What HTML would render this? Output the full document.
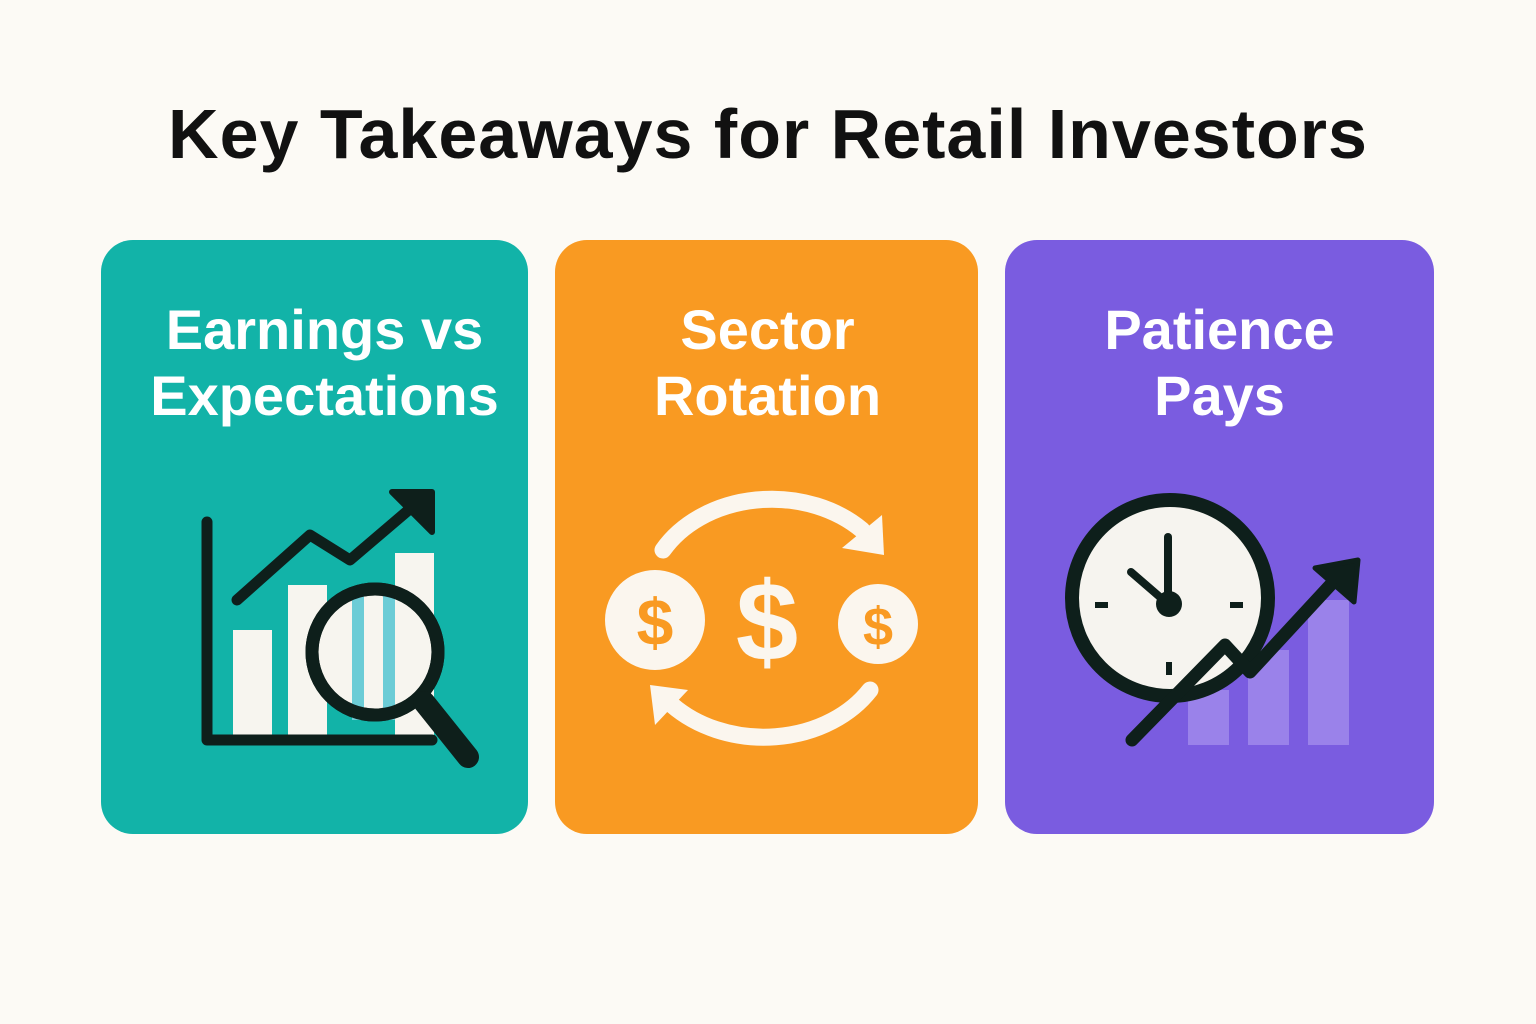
<!DOCTYPE html>
<html><head><meta charset="utf-8">
<style>
html,body{margin:0;padding:0;background:#fcfaf5;}
body{width:1536px;height:1024px;position:relative;overflow:hidden;font-family:"Liberation Sans","DejaVu Sans",sans-serif;}
h1{position:absolute;left:0;width:1536px;top:94px;margin:0;text-align:center;font-size:70px;font-weight:bold;color:#111;letter-spacing:1px;}
.card{position:absolute;top:240px;height:594px;border-radius:32px;}
.ct{position:absolute;top:297px;text-align:center;color:#fff;font-weight:bold;font-size:56px;line-height:66px;}
svg{position:absolute;left:0;top:0;}
</style></head>
<body>
<h1>Key Takeaways for Retail Investors</h1>
<div class="card" style="left:101px;width:427px;background:#12b3a8;"></div>
<div class="card" style="left:555px;width:423px;background:#f99a22;"></div>
<div class="card" style="left:1005px;width:429px;background:#7a5ce0;"></div>
<div class="ct" style="left:111px;width:427px;">Earnings vs<br>Expectations</div>
<div class="ct" style="left:556px;width:423px;">Sector<br>Rotation</div>
<div class="ct" style="left:1005px;width:429px;">Patience<br>Pays</div>
<svg id="s" width="1536" height="1024">
  <g>
    <g id="ebars"></g>
    <polyline points="207,522 207,740 432,740" fill="none" stroke="#0e1f1b" stroke-width="11" stroke-linecap="round" stroke-linejoin="round"/>
    <polyline points="237,600 310,535 350,560 418,502" fill="none" stroke="#0e1f1b" stroke-width="11" stroke-linecap="round" stroke-linejoin="round"/>
    <polygon points="392,492 432,492 432,532" fill="#0e1f1b" stroke="#0e1f1b" stroke-width="6" stroke-linejoin="round"/>
    <circle cx="375" cy="652" r="63" fill="#f7f5ef" stroke="#0e1f1b" stroke-width="13"/>
    <rect x="352" y="595" width="12" height="125" fill="#6cccd6"/>
    <rect x="383" y="595" width="12" height="125" fill="#6cccd6"/>
    <circle cx="375" cy="652" r="63" fill="none" stroke="#0e1f1b" stroke-width="13"/>
    <line x1="424" y1="702" x2="468" y2="757" stroke="#0e1f1b" stroke-width="22" stroke-linecap="round"/>
  </g>
  <g>
    <path d="M663,550 A125,100 0 0 1 862,530" fill="none" stroke="#fbf6ee" stroke-width="17" stroke-linecap="round"/>
    <polygon points="842,548 882,515 884,555" fill="#fbf6ee"/>
    <path d="M870,690 A125,100 0 0 1 672,705" fill="none" stroke="#fbf6ee" stroke-width="17" stroke-linecap="round"/>
    <polygon points="688,690 650,685 655,725" fill="#fbf6ee"/>
    <circle cx="655" cy="620" r="50" fill="#fbf6ee"/>
    <text x="655" y="645" text-anchor="middle" font-size="66" font-weight="bold" fill="#f99a22" font-family="Liberation Sans,sans-serif">$</text>
    <text x="767" y="660" text-anchor="middle" font-size="112" font-weight="bold" fill="#fbf6ee" font-family="Liberation Sans,sans-serif">$</text>
    <circle cx="878" cy="624" r="40" fill="#fbf6ee"/>
    <text x="878" y="645" text-anchor="middle" font-size="54" font-weight="bold" fill="#f99a22" font-family="Liberation Sans,sans-serif">$</text>
  </g>
  <g>
    <g id="pbars"></g>
    <circle cx="1170" cy="598" r="98" fill="#f6f4ef" stroke="#0e1f1b" stroke-width="14"/>
    <line x1="1168" y1="537" x2="1168" y2="602" stroke="#0e1f1b" stroke-width="8" stroke-linecap="round"/>
    <line x1="1131" y1="572" x2="1168" y2="604" stroke="#0e1f1b" stroke-width="8" stroke-linecap="round"/>
    <circle cx="1169" cy="604" r="13" fill="#0e1f1b"/>
    <line x1="1095" y1="605" x2="1108" y2="605" stroke="#0e1f1b" stroke-width="6"/>
    <line x1="1230" y1="605" x2="1243" y2="605" stroke="#0e1f1b" stroke-width="6"/>
    <line x1="1169" y1="662" x2="1169" y2="675" stroke="#0e1f1b" stroke-width="6"/>
    <polyline points="1132,740 1225,645 1250,672 1335,580" fill="none" stroke="#0e1f1b" stroke-width="13" stroke-linecap="round" stroke-linejoin="round"/>
    <polygon points="1315,568 1358,560 1354,602" fill="#0e1f1b" stroke="#0e1f1b" stroke-width="5" stroke-linejoin="round"/>
  </g>
</svg>
<script>
const earningsBars = [105, 150, 182];
const patienceBars = [55, 95, 145];
const ns = 'http://www.w3.org/2000/svg';
function ex(i){ return [233, 288, 395][i]; }
function ey(v){ return 735 - v; }
const eg = document.getElementById('ebars');
earningsBars.forEach((v,i)=>{
  const r = document.createElementNS(ns,'rect');
  r.setAttribute('x', ex(i)); r.setAttribute('y', ey(v));
  r.setAttribute('width', 39); r.setAttribute('height', v);
  r.setAttribute('fill', '#f7f5ef');
  
  
  eg.appendChild(r);
});
function px(i){ return 1188 + i*60; }
function py(v){ return 745 - v; }
const pg = document.getElementById('pbars');
patienceBars.forEach((v,i)=>{
  const r = document.createElementNS(ns,'rect');
  r.setAttribute('x', px(i)); r.setAttribute('y', py(v));
  r.setAttribute('width', 41); r.setAttribute('height', v);
  r.setAttribute('fill', '#9a82ea');
  
  
  pg.appendChild(r);
});
</script>
</body></html>
